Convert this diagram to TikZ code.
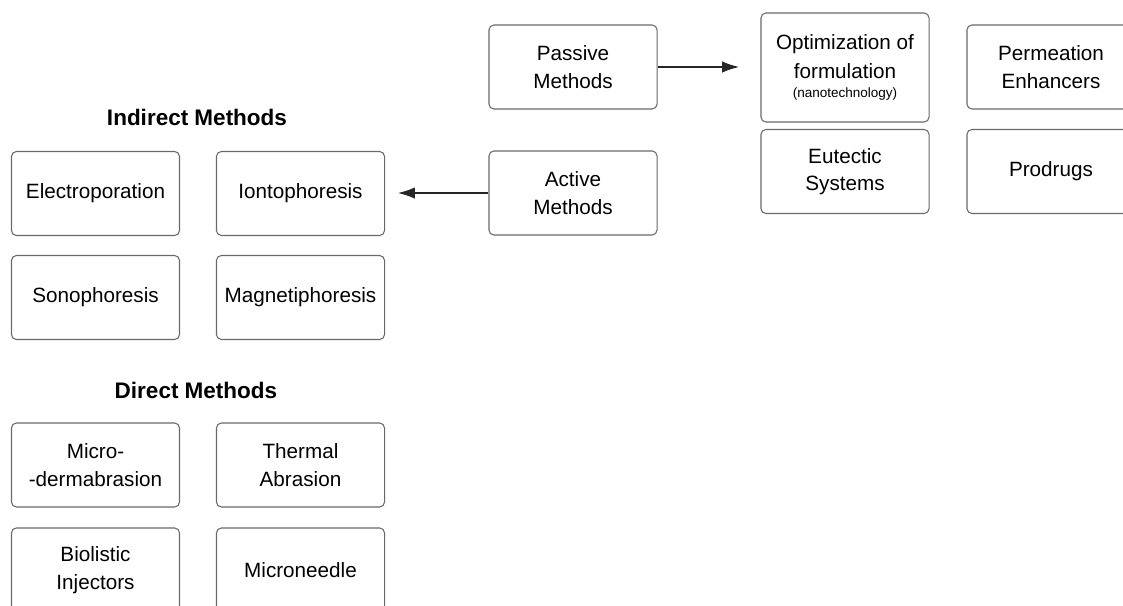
\documentclass[tikz,border=0pt]{standalone}
\usepackage{fontspec}
\setmainfont{Liberation Sans}
\usetikzlibrary{positioning, arrows.meta}

\definecolor{boxgray}{RGB}{105,105,105}

\begin{document}
\begin{tikzpicture}[x=0.025cm, y=-0.025cm]


\tikzstyle{box_style} = [draw=boxgray, line width=0.75pt, rounded corners=3.5pt, minimum width=4.2cm, minimum height=2.1cm, align=center, font=\fontsize{14.7}{19.6}\selectfont]

\tikzstyle{title_style} = [inner sep=0pt, font=\fontsize{16}{19}\selectfont\bfseries]

\tikzstyle{arrow_style} = [draw=black!85, line width=0.75pt, -{Latex[length=12pt, width=8pt]}]

\useasboundingbox (0,0) rectangle (1123,605);

\node[box_style] (passive) at (573, 67) {Passive\\Methods};
\node[box_style] (active) at (573, 193) {Active\\Methods};

\node[box_style, minimum height=2.725cm] (optim) at (845, 67.5) {Optimization of\\[1pt]formulation\\[-6pt]{\fontsize{9.6}{11}\selectfont (nanotechnology)}};
\node[box_style] (eutectic) at (845, 171.5) {Eutectic\\Systems};
\node[box_style] (perm) at (1051, 67) {Permeation\\Enhancers};
\node[box_style] (prodrugs) at (1051, 171.5) {Prodrugs};

\node[title_style] (indirect) at (197, 117) {Indirect Methods};
\node[box_style] (electro) at (95.5, 193.5) {Electroporation};
\node[box_style] (ionto) at (300.5, 193.5) {Iontophoresis};
\node[box_style] (sono) at (95.5, 297.5) {Sonophoresis};
\node[box_style] (magneti) at (300.5, 297.5) {Magnetiphoresis};

\node[title_style] (direct) at (196, 390) {Direct Methods};
\node[box_style] (micro) at (95.5, 465) {Micro-\\-dermabrasion};
\node[box_style] (thermal) at (300.5, 465) {Thermal\\Abrasion};
\node[box_style] (biolistic) at (95.5, 570) {Biolistic\\Injectors};
\node[box_style] (microneedle) at (300.5, 570) {Microneedle};


\coordinate (passive_end) at (739, 67);
\coordinate (active_end) at (398, 193);

\draw[arrow_style]  (passive) -- (passive_end);
\draw[arrow_style]  (active) -- (active_end);


\end{tikzpicture}
\end{document}
